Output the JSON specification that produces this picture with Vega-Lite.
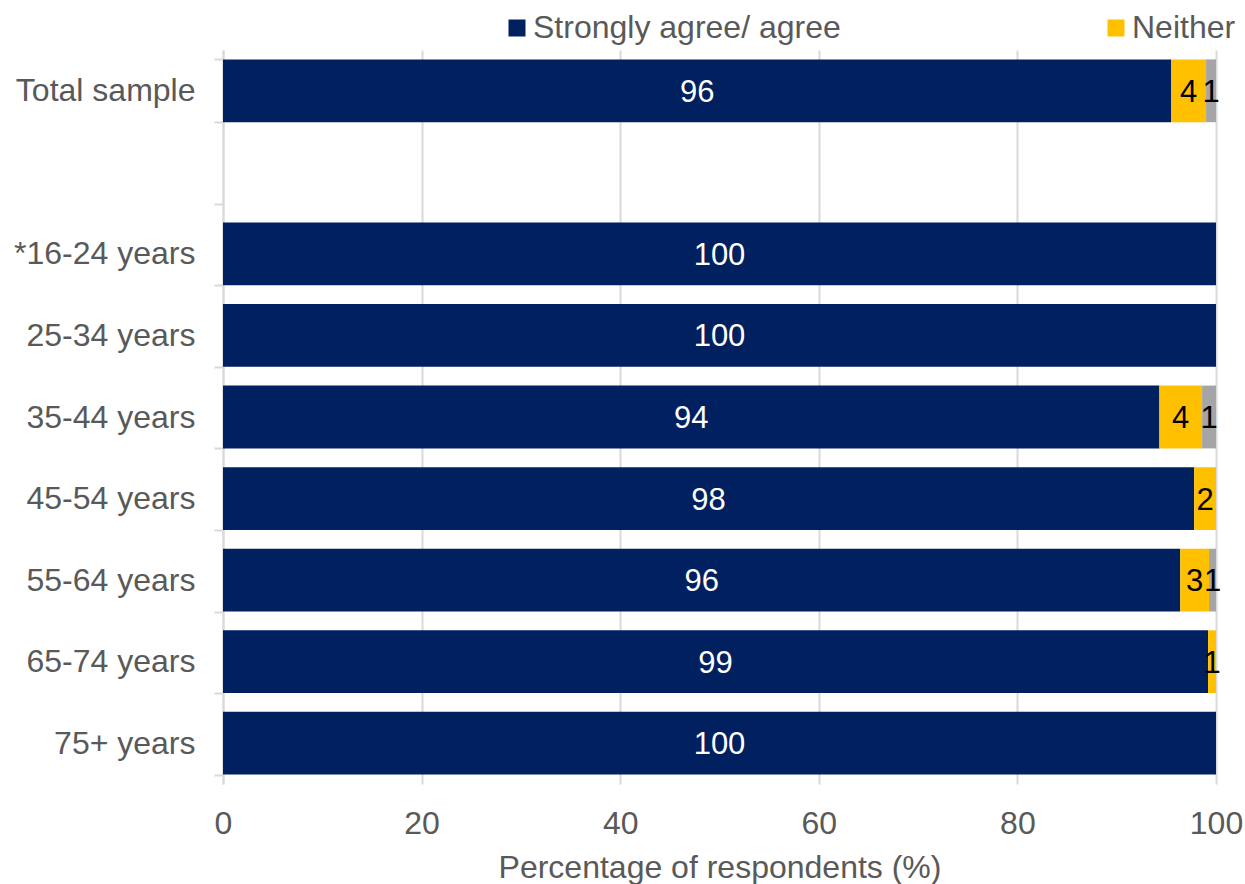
{
  "$schema": "https://vega.github.io/schema/vega-lite/v6.json",
  "autosize": "none",
  "width": 993,
  "height": 734,
  "padding": {"left": 223, "top": 50, "right": 29, "bottom": 100},
  "background": "white",
  "config": {
    "font": "Liberation Sans",
    "view": {"stroke": null}
  },
  "data": {
    "values": [
      {"group": "Total sample", "response": "Strongly agree/ agree", "value": 95.5},
      {"group": "Total sample", "response": "Neither agree nor disagree", "value": 3.5},
      {"group": "Total sample", "response": "Disagree/ strongly disagree", "value": 1.0},
      {"group": "*16-24 years", "response": "Strongly agree/ agree", "value": 100},
      {"group": "25-34 years", "response": "Strongly agree/ agree", "value": 100},
      {"group": "35-44 years", "response": "Strongly agree/ agree", "value": 94.3},
      {"group": "35-44 years", "response": "Neither agree nor disagree", "value": 4.3},
      {"group": "35-44 years", "response": "Disagree/ strongly disagree", "value": 1.4},
      {"group": "45-54 years", "response": "Strongly agree/ agree", "value": 97.8},
      {"group": "45-54 years", "response": "Neither agree nor disagree", "value": 2.2},
      {"group": "55-64 years", "response": "Strongly agree/ agree", "value": 96.4},
      {"group": "55-64 years", "response": "Neither agree nor disagree", "value": 2.9},
      {"group": "55-64 years", "response": "Disagree/ strongly disagree", "value": 0.7},
      {"group": "65-74 years", "response": "Strongly agree/ agree", "value": 99.2},
      {"group": "65-74 years", "response": "Neither agree nor disagree", "value": 0.8},
      {"group": "75+ years", "response": "Strongly agree/ agree", "value": 100}
    ]
  },
  "transform": [
    {"stack": "value", "groupby": ["group"], "sort": [{"field": "response", "order": "descending"}], "as": ["x0", "x1"]},
    {"calculate": "(datum.x0 + datum.x1) / 2", "as": "mid"}
  ],
  "encoding": {
    "y": {
      "field": "group",
      "type": "nominal",
      "scale": {
        "domain": ["Total sample", " ", "*16-24 years", "25-34 years", "35-44 years", "45-54 years", "55-64 years", "65-74 years", "75+ years"],
        "paddingInner": 0.23,
        "paddingOuter": 0.115
      },
      "axis": {
        "title": null,
        "tickBand": "extent",
        "domainColor": "#D9D9D9",
        "domainWidth": 2,
        "tickColor": "#D9D9D9",
        "tickWidth": 2,
        "tickSize": 9,
        "labelPadding": 19,
        "labelFontSize": 32,
        "labelColor": "#595959",
        "labelLimit": 400,
        "grid": false
      }
    }
  },
  "layer": [
    {
      "mark": {"type": "bar"},
      "encoding": {
        "x": {
          "field": "x0",
          "type": "quantitative",
          "scale": {"domain": [0, 100], "nice": false},
          "axis": {
            "values": [0, 20, 40, 60, 80, 100],
            "title": "Percentage of respondents (%)",
            "titleFontSize": 32,
            "titleFontWeight": "normal",
            "titleColor": "#595959",
            "titlePadding": 13,
            "labelFontSize": 32,
            "labelColor": "#595959",
            "labelPadding": 24,
            "labelFlush": false,
            "domain": false,
            "ticks": false,
            "grid": true,
            "gridColor": "#D9D9D9",
            "gridWidth": 2
          }
        },
        "x2": {"field": "x1"},
        "color": {
          "field": "response",
          "type": "nominal",
          "scale": {
            "domain": ["Strongly agree/ agree", "Neither agree nor disagree", "Disagree/ strongly disagree"],
            "range": ["#002060", "#FFC000", "#A5A5A5"]
          },
          "legend": {
            "title": null,
            "orient": "none",
            "direction": "horizontal",
            "legendX": 278,
            "legendY": -38,
            "symbolType": "square",
            "symbolSize": 289,
            "symbolStrokeWidth": 0,
            "labelFontSize": 32,
            "labelColor": "#595959",
            "labelOffset": 0,
            "labelLimit": 700,
            "columnPadding": 259
          }
        }
      }
    },
    {
      "mark": {"type": "text", "fontSize": 31, "align": "center", "baseline": "middle", "dy": 2},
      "encoding": {
        "x": {"field": "mid", "type": "quantitative"},
        "text": {"field": "value", "type": "quantitative", "format": ".0f"},
        "color": {
          "condition": {"test": "datum.response === 'Strongly agree/ agree'", "value": "#FFFFFF"},
          "value": "#000000"
        }
      }
    }
  ]
}
